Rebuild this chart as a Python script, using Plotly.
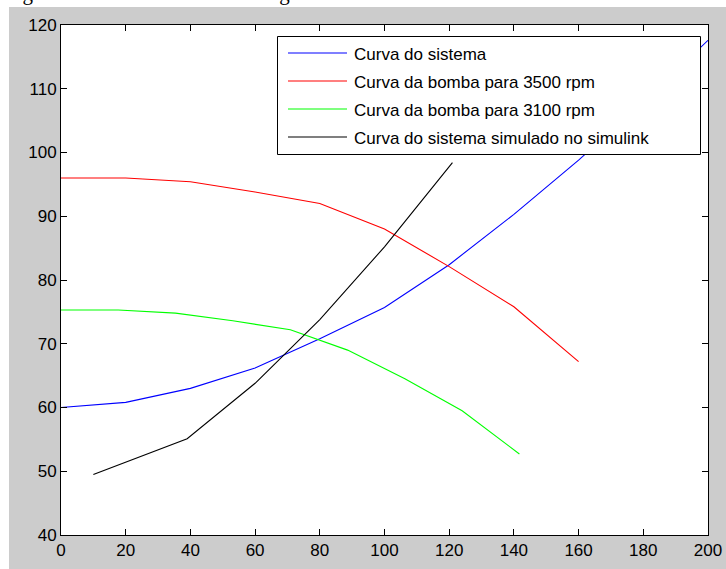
import plotly.graph_objects as go

# ---- data ----
names = ["Curva do sistema", "Curva da bomba para 3500 rpm",
         "Curva da bomba para 3100 rpm", "Curva do sistema simulado no simulink"]
colors = ["#0000ff", "#ff0000", "#00ff00", "#000000"]

q_sys = [0, 20, 40, 60, 80, 100, 120, 140, 160, 180, 200]
h_sys = [60, 60.8, 63, 66.2, 70.8, 75.7, 82.4, 90.3, 98.8, 107.9, 117.6]

q_3500 = [0, 20, 40, 60, 80, 100, 120, 140, 160]
h_3500 = [96, 96, 95.4, 93.8, 92, 88, 82.1, 75.8, 67.2]

q_3100 = [0, 17.7, 35.4, 53.1, 70.9, 88.6, 106.3, 124, 141.7]
h_3100 = [75.3, 75.3, 74.8, 73.6, 72.2, 69.0, 64.5, 59.5, 52.7]

q_sim = [10, 39, 60, 80, 100, 121]
h_sim = [49.5, 55.1, 63.8, 73.8, 85.2, 98.4]

x_ticks = [0, 20, 40, 60, 80, 100, 120, 140, 160, 180, 200]
y_ticks = [40, 50, 60, 70, 80, 90, 100, 110, 120]

caption = "Figura 6 – Curvas do sistema original e do sistema simulado"

# ---- geometry helpers (pixel -> paper) ----
W, H = 726, 569
L, R, T, B = 61, 708, 25, 535


def px(x):
    return (x - L) / (R - L)


def py(y):
    return (B - y) / (B - T)


fig = go.Figure()
series = [(q_sys, h_sys), (q_3500, h_3500), (q_3100, h_3100), (q_sim, h_sim)]
for (q, h), n, c in zip(series, names, colors):
    fig.add_trace(go.Scatter(x=q, y=h, mode="lines", name=n,
                             line=dict(color=c, width=1.1), showlegend=False))

shapes = [
    dict(type="rect", xref="paper", yref="paper", x0=px(9), x1=px(W + 5),
         y0=py(7), y1=py(H + 5), fillcolor="#cccccc", line=dict(width=0),
         layer="below"),
    dict(type="rect", xref="paper", yref="paper", x0=0, x1=1, y0=0, y1=1,
         fillcolor="white", line=dict(width=0), layer="below"),
    # legend box
    dict(type="rect", xref="paper", yref="paper", x0=px(277.5), x1=px(700.5),
         y0=py(154.5), y1=py(36.5), fillcolor="white",
         line=dict(color="black", width=1), layer="above"),
]
annotations = []
row_y = [53, 81, 109, 137]
for n, c, ry in zip(names, colors, row_y):
    shapes.append(dict(type="line", xref="paper", yref="paper", x0=px(288),
                       x1=px(347), y0=py(ry), y1=py(ry),
                       line=dict(color=c, width=1.2), layer="above"))
    annotations.append(dict(text=n, xref="paper", yref="paper", x=px(352),
                            y=py(ry + 1.5), xanchor="left", yanchor="middle",
                            showarrow=False,
                            font=dict(family="Liberation Sans", size=17,
                                      color="black")))

annotations.append(dict(text=caption, xref="paper", yref="paper", x=px(4),
                        y=py(6), xanchor="left", yanchor="bottom",
                        showarrow=False, borderpad=0,
                        font=dict(family="Liberation Serif", size=21,
                                  color="black")))

axis_common = dict(showgrid=False, zeroline=False, showline=True,
                   linecolor="black", linewidth=1, mirror="allticks",
                   ticks="inside", ticklen=6, tickwidth=1, tickcolor="black",
                   automargin=False,
                   tickfont=dict(family="Liberation Sans", size=17,
                                 color="black"))

fig.update_layout(
    width=W, height=H,
    margin=dict(l=L, r=W - R, t=T, b=H - B, autoexpand=False),
    paper_bgcolor="white", plot_bgcolor="white",
    xaxis=dict(range=[0, 200], tickvals=x_ticks,
               ticktext=[str(v) for v in x_ticks], **axis_common),
    yaxis=dict(range=[40, 120], tickvals=y_ticks,
               ticktext=[str(v) for v in y_ticks], **axis_common),
    shapes=shapes, annotations=annotations, showlegend=False,
)

fig.write_html("out.html")
